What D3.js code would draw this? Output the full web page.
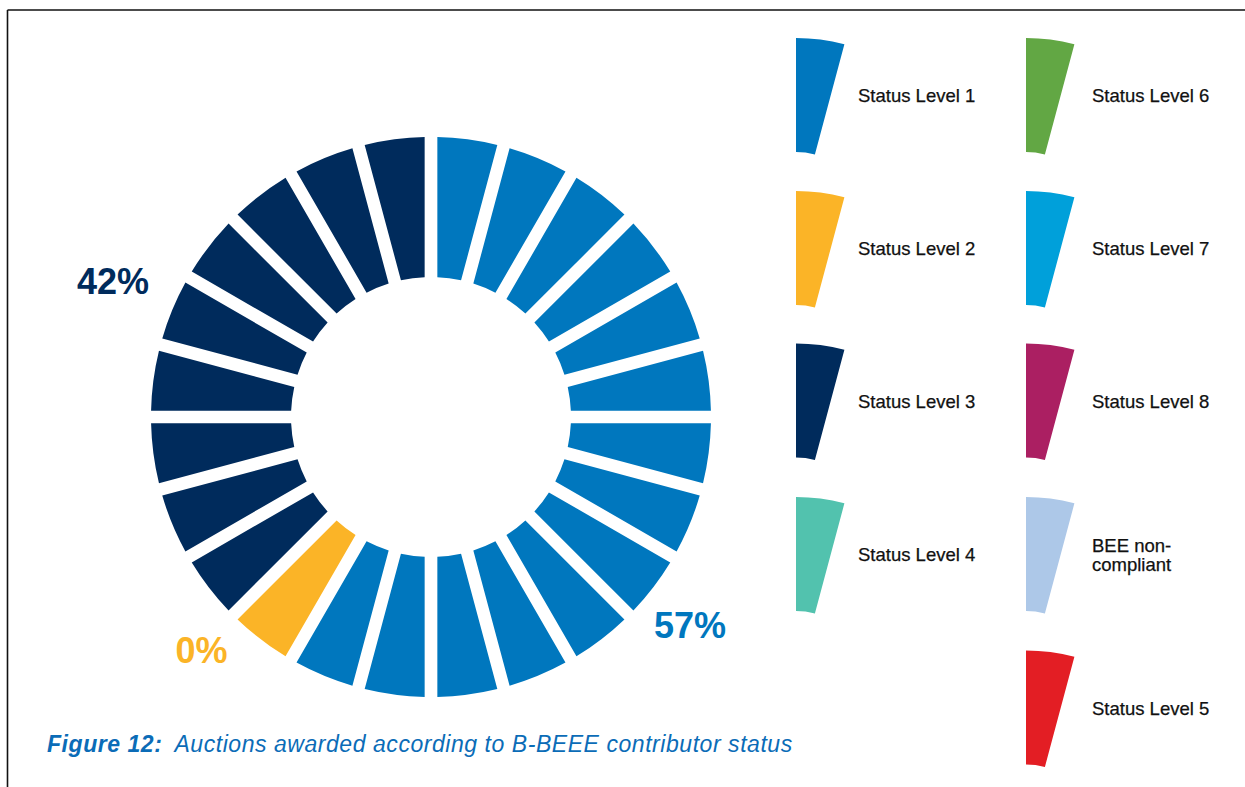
<!DOCTYPE html>
<html>
<head>
<meta charset="utf-8">
<script src="https://cdn.jsdelivr.net/npm/d3@7"></script>
<style>
  html, body { margin: 0; padding: 0; background: #ffffff; }
  svg { display: block; font-family: "Liberation Sans", Arial, Helvetica, sans-serif; }
</style>
</head>
<body>
<svg id="chart" width="1245" height="787"></svg>
<script>
// Contributor levels shown in the ring (clockwise from 12 o'clock)
const ringLevels = ["Status Level 1", "Status Level 2", "Status Level 3"];
const ringSegments = [14, 1, 9];          // number of ring segments per level
const ringShares = [57, 0, 42];           // share of auctions, %

// Legend entries, two columns
const legendCol1 = ["Status Level 1", "Status Level 2", "Status Level 3", "Status Level 4"];
const legendCol2 = ["Status Level 6", "Status Level 7", "Status Level 8", "BEE non-\ncompliant", "Status Level 5"];

const levelColors = {
  "Status Level 1": "#0077be",
  "Status Level 2": "#fbb427",
  "Status Level 3": "#002b5c",
  "Status Level 4": "#52c2ae",
  "Status Level 5": "#e31e24",
  "Status Level 6": "#62a744",
  "Status Level 7": "#00a0da",
  "Status Level 8": "#ab1f62",
  "BEE non-\ncompliant": "#adc8e8"
};

const svg = d3.select("#chart");

// Frame lines (top and left)
svg.append("line").attr("x1", 7.5).attr("y1", 10).attr("x2", 1245).attr("y2", 10)
  .attr("stroke", "#111").attr("stroke-width", 1.6);
svg.append("line").attr("x1", 7.5).attr("y1", 10).attr("x2", 7.5).attr("y2", 787)
  .attr("stroke", "#111").attr("stroke-width", 1.6);

// ---- Segmented ring ----
const cx = 431, cy = 417;
const outerR = 280, innerR = 140, gap = 12.7;

const segs = [];
ringLevels.forEach((lvl, i) => {
  for (let k = 0; k < ringSegments[i]; k++) segs.push({ level: lvl });
});

const pie = d3.pie().value(1).sort(null).startAngle(0).endAngle(2 * Math.PI).padAngle(gap / outerR);
const arc = d3.arc().innerRadius(innerR).outerRadius(outerR).padRadius(outerR);

const ring = svg.append("g").attr("transform", `translate(${cx},${cy})`);
ring.selectAll("path.seg")
  .data(pie(segs))
  .join("path")
  .attr("class", "seg")
  .attr("d", arc)
  .attr("fill", d => levelColors[d.data.level]);

// Share labels around the ring
const labelOffsets = {
  "Status Level 1": [259, 221],
  "Status Level 2": [-229.5, 246],
  "Status Level 3": [-318, -123]
};
ringLevels.forEach((lvl, i) => {
  const [dx, dy] = labelOffsets[lvl];
  ring.append("text")
    .attr("x", dx).attr("y", dy)
    .attr("text-anchor", "middle")
    .attr("font-size", 36)
    .attr("font-weight", "bold")
    .attr("fill", levelColors[lvl])
    .text(ringShares[i] + "%");
});

// ---- Legend: each swatch is a 15° ring sector ----
const swatchArc = d3.arc().innerRadius(73).outerRadius(187)
  .startAngle(0).endAngle(Math.PI / 12);
const rowTops = [38, 191, 343.5, 497, 650.5];
const cols = [
  { items: legendCol1, x: 796, tx: 858 },
  { items: legendCol2, x: 1026, tx: 1092 }
];
cols.forEach(col => {
  col.items.forEach((name, r) => {
    const top = rowTops[r];
    svg.append("path")
      .attr("d", swatchArc())
      .attr("transform", `translate(${col.x},${top + 187})`)
      .attr("fill", levelColors[name]);
    const lines = name.split("\n");
    const mid = top + 57.5;
    const lh = 19;
    const t = svg.append("text")
      .attr("x", col.tx)
      .attr("font-size", 18.5)
      .attr("fill", "#111")
      .attr("stroke", "#111")
      .attr("stroke-width", 0.25);
    lines.forEach((ln, j) => {
      t.append("tspan")
        .attr("x", col.tx)
        .attr("y", mid + 6.5 + (j - (lines.length - 1) / 2) * lh)
        .text(ln);
    });
  });
});

// ---- Caption ----
const capLeft = 47, capRight = 793, capGap = 12;
const cap = svg.append("text")
  .attr("x", capLeft).attr("y", 752)
  .attr("font-size", 23)
  .attr("font-style", "italic")
  .attr("fill", "#0b6cb7");
const capLead = cap.append("tspan").attr("font-weight", "bold").text("Figure 12:");
const capBody = cap.append("tspan").attr("dx", capGap).text("Auctions awarded according to B-BEEE contributor status");
// spread the letters so the caption runs to the right edge of the ring block
const natural = cap.node().getComputedTextLength();
const chars = (capLead.text() + capBody.text()).length;
const spacing = Math.max(0, (capRight - capLeft - natural - capGap) / chars);
cap.attr("letter-spacing", spacing.toFixed(2));
</script>
</body>
</html>
